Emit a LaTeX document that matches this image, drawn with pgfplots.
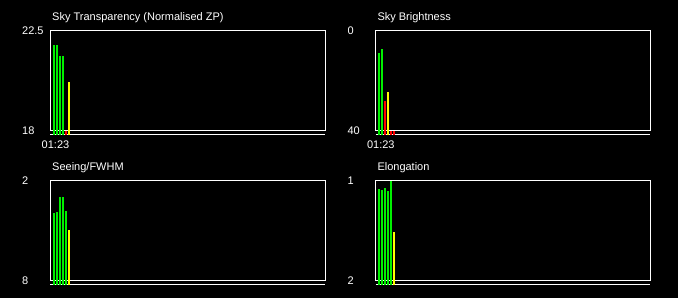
\documentclass[border=0pt]{standalone}
\usepackage{pgfplots}
\pgfplotsset{compat=1.18}
\usepackage{fontspec}
\setmainfont{Liberation Sans}
\definecolor{bgreen}{RGB}{0,240,0}
\definecolor{byellow}{RGB}{255,255,0}
\definecolor{bred}{RGB}{255,0,0}
\pgfplotsset{
  panel/.style={
    scale only axis, width=274.7pt, height=100pt, anchor=south west,
    xmin=-0.1667, xmax=91.5,
    clip=false,
    axis line style={white, line width=1pt},
    major tick length=0pt,
    tick style={draw=none},
    ticklabel style={font=\fontsize{11}{13}\selectfont, text=white, inner sep=0pt},
    /pgf/number format/assume math mode=true,
    yticklabel style={anchor=west, xshift=-28.5pt},
    xticklabel style={anchor=base, yshift=-18pt},
    unbounded coords=jump,
  },
  bar/.style={line width=2pt, mark=none},
}
\newcommand{\paneltitle}[1]{\node[anchor=base west, inner sep=0pt, text=white, font=\fontsize{11}{13}\selectfont, xshift=1.5pt, yshift=9.8pt] at (rel axis cs:0,1) {#1};
  \draw[white, line width=1pt] ([yshift=-4pt]rel axis cs:0,0) -- ([yshift=-4pt]rel axis cs:1,0);}
\begin{document}
\begin{tikzpicture}
\useasboundingbox (0,0) rectangle (678pt,298pt);
\fill[black] (0,0) rectangle (678pt,298pt);

% Sky Transparency
\begin{axis}[panel, at={(50.5pt,167.5pt)},
  ymin=18, ymax=22.5, ytick={18,22.5}, yticklabels={18,22.5},
  xtick={1.5}, xticklabels={01:23}]
\paneltitle{Sky Transparency (Normalised ZP)}
\addplot[bgreen, bar] coordinates {(1,17.80) (1,21.85) (1,nan) (2,17.80) (2,21.85) (2,nan) (3,17.80) (3,21.35) (3,nan) (4,17.80) (4,21.35)};
\addplot[bred, bar] coordinates {(5,17.80) (5,18.0)};
\addplot[byellow, bar] coordinates {(6,17.80) (6,20.18)};
\end{axis}

% Sky Brightness
\begin{axis}[panel, at={(375.8pt,167.5pt)}, y dir=reverse,
  ymin=0, ymax=40, ytick={0,40}, yticklabels={0,40},
  xtick={1.5}, xticklabels={01:23}]
\paneltitle{Sky Brightness}
\addplot[bgreen, bar] coordinates {(1,41.8) (1,8.9) (1,nan) (2,41.8) (2,7.4)};
\addplot[bred, bar] coordinates {(3,41.8) (3,28.1) (3,nan) (5,41.8) (5,40) (5,nan) (6,41.8) (6,40)};
\addplot[byellow, bar] coordinates {(4,41.8) (4,24.5)};
\end{axis}

% Seeing/FWHM
\begin{axis}[panel, at={(50.5pt,17.5pt)}, y dir=reverse,
  ymin=2, ymax=8, ytick={2,8}, yticklabels={2,8},
  xtick=\empty]
\paneltitle{Seeing/FWHM}
\addplot[bgreen, bar] coordinates {(1,8.27) (1,3.95) (1,nan) (2,8.27) (2,3.89) (2,nan) (3,8.27) (3,2.99) (3,nan) (4,8.27) (4,2.99) (4,nan) (5,8.27) (5,3.83)};
\addplot[byellow, bar] coordinates {(6,8.27) (6,4.97)};
\end{axis}

% Elongation
\begin{axis}[panel, at={(375.8pt,17.5pt)}, y dir=reverse,
  ymin=1, ymax=2, ytick={1,2}, yticklabels={1,2},
  xtick=\empty]
\paneltitle{Elongation}
\addplot[bgreen, bar] coordinates {(1,2.045) (1,1.085) (1,nan) (2,2.045) (2,1.095) (2,nan) (3,2.045) (3,1.075) (3,nan) (4,2.045) (4,1.10) (4,nan) (5,2.045) (5,1.0)};
\addplot[byellow, bar] coordinates {(6,2.045) (6,1.51)};
\end{axis}
\end{tikzpicture}
\end{document}
